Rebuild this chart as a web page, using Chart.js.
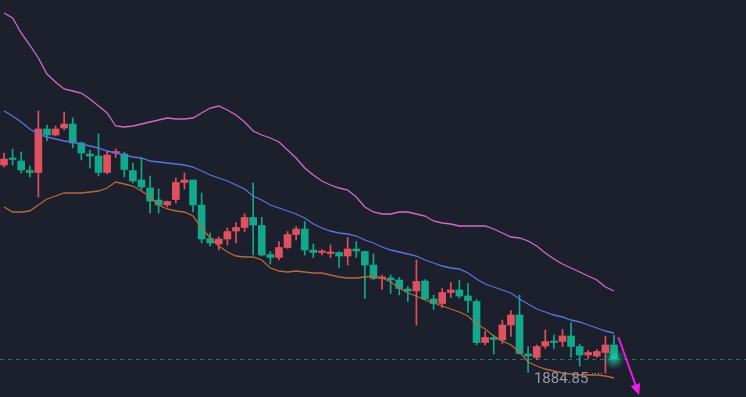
<!DOCTYPE html>
<html>
<head>
<meta charset="utf-8">
<script src="https://cdn.jsdelivr.net/npm/chart.js@4.4.1/dist/chart.umd.min.js"></script>
<style>
    html, body { margin: 0; padding: 0; background: #1b202c; }
    canvas { display: block; }
</style>
</head>
<body>
<canvas id="klineChart" width="746" height="397"></canvas>
<script>
// Candles (red = rising, green = falling)
const opens = [
    1905.65, 1906.30, 1906.05, 1905.10, 1904.90, 1909.25, 1908.65, 1909.35, 1909.75, 1907.85,
    1906.75, 1906.55, 1904.90, 1906.85, 1906.75, 1905.10, 1904.15, 1903.35, 1902.15, 1901.65,
    1902.20, 1903.90, 1904.15, 1901.65, 1898.30, 1897.75, 1898.25, 1899.05, 1899.40, 1900.40,
    1899.60, 1896.70, 1896.40, 1897.40, 1898.70, 1899.25, 1897.15, 1896.90, 1896.80, 1896.90,
    1896.55, 1897.25, 1897.00, 1895.65, 1894.30, 1894.35, 1894.15, 1893.25, 1893.05, 1894.05,
    1892.25, 1891.80, 1892.90, 1893.15, 1892.55, 1892.00, 1887.90, 1888.40, 1888.15, 1889.65,
    1890.65, 1886.75, 1886.40, 1887.55, 1888.00, 1888.00, 1888.55, 1887.50, 1886.65, 1886.55,
    1886.90, 1887.65
];
const closes = [
    1906.25, 1906.20, 1905.15, 1904.90, 1909.25, 1908.65, 1909.25, 1909.75, 1907.85, 1906.85,
    1906.55, 1904.90, 1906.65, 1906.95, 1905.20, 1904.05, 1903.45, 1902.05, 1901.65, 1902.00,
    1903.90, 1904.15, 1901.65, 1898.25, 1897.85, 1898.25, 1899.00, 1899.40, 1900.40, 1899.65,
    1896.65, 1896.40, 1897.40, 1898.70, 1899.25, 1897.15, 1896.90, 1897.00, 1896.90, 1896.55,
    1897.25, 1897.05, 1895.65, 1894.30, 1894.40, 1894.15, 1893.30, 1893.05, 1894.00, 1892.25,
    1891.80, 1892.90, 1893.15, 1892.55, 1892.10, 1887.90, 1888.40, 1888.20, 1889.65, 1890.65,
    1886.80, 1886.55, 1887.50, 1888.00, 1887.90, 1888.55, 1887.50, 1886.65, 1886.90, 1887.00,
    1887.65, 1886.30
];
const highs = [
    1906.85, 1907.25, 1906.95, 1905.55, 1911.05, 1909.65, 1909.55, 1910.95, 1910.35, 1907.95,
    1907.15, 1908.75, 1907.05, 1907.25, 1906.95, 1905.85, 1906.35, 1904.55, 1903.25, 1902.05,
    1904.35, 1904.85, 1904.15, 1902.85, 1898.85, 1898.45, 1899.35, 1899.90, 1900.75, 1903.85,
    1900.40, 1897.00, 1898.00, 1899.00, 1899.50, 1900.00, 1897.75, 1897.20, 1897.65, 1897.00,
    1898.40, 1898.00, 1897.05, 1896.75, 1894.65, 1894.65, 1894.40, 1893.50, 1896.15, 1894.20,
    1892.65, 1893.30, 1893.90, 1894.15, 1893.80, 1892.20, 1889.00, 1888.65, 1890.15, 1891.10,
    1892.65, 1887.50, 1887.65, 1889.15, 1888.65, 1889.20, 1889.90, 1887.75, 1887.10, 1887.20,
    1888.50, 1888.65
];
const lows = [
    1905.45, 1905.65, 1904.85, 1904.45, 1902.45, 1908.05, 1908.55, 1909.15, 1907.35, 1906.15,
    1905.35, 1904.55, 1904.75, 1906.40, 1904.45, 1903.85, 1903.15, 1900.85, 1900.85, 1901.45,
    1901.85, 1903.25, 1900.95, 1897.85, 1897.55, 1897.15, 1897.65, 1897.85, 1899.00, 1896.65,
    1896.55, 1895.75, 1896.15, 1897.30, 1898.15, 1896.65, 1896.40, 1896.65, 1896.40, 1895.40,
    1895.65, 1896.40, 1892.30, 1894.20, 1893.20, 1892.80, 1892.65, 1892.00, 1889.65, 1892.15,
    1891.20, 1891.40, 1892.40, 1892.35, 1890.90, 1887.65, 1887.65, 1886.75, 1887.80, 1888.50,
    1886.75, 1884.90, 1886.20, 1887.30, 1887.30, 1887.50, 1886.40, 1885.55, 1886.30, 1886.40,
    1884.85, 1886.30
];

// Bands
const upperBand = [
    1920.85, 1920.35, 1918.85, 1917.65, 1916.35, 1914.75, 1913.95, 1913.25, 1913.05, 1912.85,
    1912.25, 1911.55, 1910.85, 1909.55, 1909.45, 1909.55, 1909.75, 1909.95, 1910.15, 1910.35,
    1910.25, 1910.25, 1910.35, 1910.85, 1911.35, 1911.55, 1911.15, 1910.65, 1909.95, 1909.05,
    1908.65, 1908.35, 1907.95, 1907.15, 1906.35, 1905.35, 1904.65, 1904.05, 1903.65, 1903.35,
    1903.15, 1902.45, 1901.45, 1900.95, 1900.75, 1900.75, 1900.95, 1900.95, 1900.75, 1900.55,
    1900.05, 1899.85, 1899.75, 1899.55, 1899.55, 1899.55, 1899.55, 1899.25, 1898.85, 1898.45,
    1898.35, 1898.05, 1897.55, 1896.85, 1896.25, 1895.75, 1895.35, 1894.95, 1894.55, 1894.15,
    1893.45, 1893.05
];
const middleBand = [
    1911.05, 1910.55, 1909.95, 1909.25, 1908.75, 1908.45, 1908.25, 1908.05, 1907.95, 1907.75,
    1907.55, 1907.35, 1907.05, 1906.85, 1906.65, 1906.45, 1906.35, 1906.05, 1905.95, 1905.85,
    1905.75, 1905.65, 1905.45, 1905.05, 1904.65, 1904.35, 1904.05, 1903.65, 1903.25, 1902.55,
    1902.15, 1901.65, 1901.35, 1901.05, 1900.75, 1900.35, 1899.75, 1899.35, 1899.05, 1898.85,
    1898.75, 1898.55, 1898.15, 1897.85, 1897.45, 1897.15, 1896.95, 1896.75, 1896.55, 1896.15,
    1895.85, 1895.55, 1895.35, 1895.25, 1894.85, 1894.25, 1893.75, 1893.45, 1893.15, 1892.85,
    1892.25, 1891.75, 1891.25, 1890.95, 1890.65, 1890.45, 1890.15, 1889.95, 1889.65, 1889.35,
    1889.05, 1888.85
];
const lowerBand = [
    1901.45, 1900.95, 1900.95, 1901.05, 1901.65, 1902.25, 1902.55, 1902.85, 1902.85, 1902.85,
    1902.95, 1903.05, 1903.35, 1903.95, 1903.75, 1903.55, 1903.05, 1902.45, 1901.65, 1901.25,
    1901.05, 1900.95, 1900.55, 1899.35, 1898.35, 1897.55, 1896.95, 1896.55, 1896.45, 1896.45,
    1896.15, 1895.35, 1895.05, 1894.95, 1895.05, 1894.95, 1894.85, 1894.85, 1894.65, 1894.45,
    1894.35, 1894.35, 1894.45, 1894.55, 1894.35, 1893.95, 1893.35, 1892.85, 1892.55, 1892.15,
    1891.85, 1891.55, 1891.25, 1890.95, 1890.55, 1889.75, 1889.25, 1888.55, 1888.05, 1887.65,
    1886.95, 1885.95, 1885.55, 1885.25, 1885.05, 1884.85, 1884.75, 1884.65, 1884.65, 1884.65,
    1884.55, 1884.35
];

const UP = '#e0515f';
const DOWN = '#12a88b';

const colors = opens.map((o, i) => closes[i] >= o ? UP : DOWN);
const lastIdx = closes.length - 1;
const lowIdx = lows.indexOf(Math.min(...lows));

// dashed last price line, low label, glow and arrow
const overlay = {
    id: 'overlay',
    beforeDatasetsDraw(chart) {
        const { ctx, chartArea, scales: { y } } = chart;
        const py = Math.round(y.getPixelForValue(closes[lastIdx])) + 0.5;
        ctx.save();
        ctx.strokeStyle = '#2c6f66';
        ctx.lineWidth = 1;
        ctx.setLineDash([4, 4]);
        ctx.beginPath();
        ctx.moveTo(chartArea.left, py);
        ctx.lineTo(chartArea.right, py);
        ctx.stroke();
        ctx.restore();
    },
    afterDatasetsDraw(chart) {
        const { ctx, scales: { x, y } } = chart;
        ctx.save();

        // glow on the last close
        const gx = x.getPixelForValue(lastIdx);
        const gy = y.getPixelForValue(closes[lastIdx]);
        const g = ctx.createRadialGradient(gx, gy, 0, gx, gy, 11);
        g.addColorStop(0, 'rgba(40, 220, 180, 0.85)');
        g.addColorStop(0.45, 'rgba(30, 190, 160, 0.45)');
        g.addColorStop(1, 'rgba(30, 190, 160, 0)');
        ctx.fillStyle = g;
        ctx.beginPath();
        ctx.arc(gx, gy, 11, 0, Math.PI * 2);
        ctx.fill();

        // lowest low label
        const lx = x.getPixelForValue(lowIdx);
        const ly = y.getPixelForValue(lows[lowIdx]);
        ctx.fillStyle = '#959ba7';
        ctx.font = '15px Roboto, "Noto Sans", sans-serif';
        ctx.textAlign = 'right';
        ctx.textBaseline = 'middle';
        ctx.fillText(lows[lowIdx].toFixed(2), lx - 17, ly + 6);
        for (let d = lx - 13; d < lx - 1; d += 3) {
            ctx.fillRect(Math.round(d), Math.round(ly), 1, 1);
        }

        // magenta arrow
        const x0 = x.getPixelForValue(lastIdx + 0.5);
        const y0 = y.getPixelForValue(highs[lastIdx] - 0.2);
        const x1 = x.getPixelForValue(lastIdx + 2.92);
        const y1 = y.getPixelForValue(1882.65);
        const ang = Math.atan2(y1 - y0, x1 - x0);
        ctx.strokeStyle = '#e61ee6';
        ctx.fillStyle = '#e61ee6';
        ctx.lineWidth = 2;
        ctx.beginPath();
        ctx.moveTo(x0, y0);
        ctx.lineTo(x1 - 8 * Math.cos(ang), y1 - 8 * Math.sin(ang));
        ctx.stroke();
        ctx.beginPath();
        ctx.moveTo(x1, y1);
        ctx.lineTo(x1 - 11 * Math.cos(ang) + 5 * Math.sin(ang), y1 - 11 * Math.sin(ang) - 5 * Math.cos(ang));
        ctx.lineTo(x1 - 11 * Math.cos(ang) - 5 * Math.sin(ang), y1 - 11 * Math.sin(ang) + 5 * Math.cos(ang));
        ctx.closePath();
        ctx.fill();
        ctx.restore();
    }
};

function lineSet(values, color) {
    return {
        type: 'line',
        data: values.map((v, i) => ({ x: i, y: v })),
        borderColor: color,
        borderWidth: 1.3,
        pointRadius: 0,
        tension: 0,
        order: 0
    };
}

new Chart(document.getElementById('klineChart').getContext('2d'), {
    type: 'bar',
    data: {
        datasets: [
            {
                data: lows.map((l, i) => ({ x: i, y: [l, highs[i]] })),
                backgroundColor: colors,
                barThickness: 1,
                grouped: false,
                order: 2
            },
            {
                data: opens.map((o, i) => ({ x: i, y: [o, closes[i]] })),
                backgroundColor: colors,
                barThickness: 7,
                minBarLength: 1.5,
                grouped: false,
                order: 1
            },
            lineSet(upperBand, '#d46cc2'),
            lineSet(middleBand, '#5d72e4'),
            lineSet(lowerBand, '#b8693a')
        ]
    },
    options: {
        responsive: false,
        animation: false,
        layout: { padding: 0 },
        plugins: {
            legend: { display: false },
            tooltip: { enabled: false }
        },
        scales: {
            x: {
                type: 'linear',
                offset: false,
                min: -0.466,
                max: 86.36,
                display: false
            },
            y: {
                min: 1882.45,
                max: 1922.15,
                display: false
            }
        }
    },
    plugins: [overlay]
});
</script>
</body>
</html>
